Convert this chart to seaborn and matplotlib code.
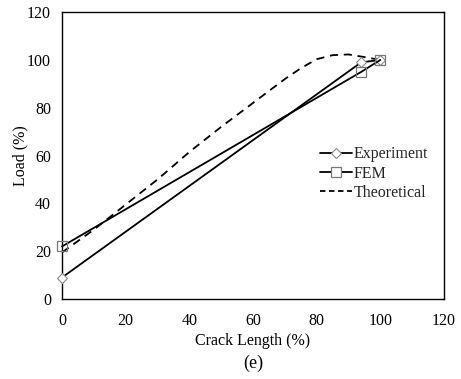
import matplotlib
matplotlib.use("Agg")
import matplotlib.pyplot as plt
import seaborn as sns
import pandas as pd
from matplotlib.lines import Line2D

sns.set_theme(style="white")
plt.rcParams['font.family'] = ['Liberation Serif', 'DejaVu Serif']

# Data
exp_x = [0, 94, 100]
exp_y = [9, 99, 100]
fem_x = [0, 94, 100]
fem_y = [22, 95, 100]
theo_x = [0, 10, 20, 30, 40, 50, 60, 70, 75, 80, 85, 90, 95, 100]
theo_y = [19.5, 29.0, 39.5, 50, 61.5, 72, 82, 92, 96.5, 100.3, 102, 102.3, 101.2, 100]

x_ticks = [0, 20, 40, 60, 80, 100, 120]
y_ticks = [0, 20, 40, 60, 80, 100, 120]

df_exp = pd.DataFrame({"x": exp_x, "y": exp_y})
df_fem = pd.DataFrame({"x": fem_x, "y": fem_y})
df_theo = pd.DataFrame({"x": theo_x, "y": theo_y})

LW = 1.3
DASH = (0, (4.5, 3.2))

fig = plt.figure(figsize=(4.61, 3.79), dpi=100)
ax = fig.add_axes([0.1345, 0.211, 0.963 - 0.1345, 0.968 - 0.211])

sns.lineplot(data=df_theo, x="x", y="y", ax=ax, color="black", lw=LW,
             linestyle=DASH, sort=False)
sns.lineplot(data=df_exp, x="x", y="y", ax=ax, color="black", lw=LW,
             marker="D", markersize=5, markerfacecolor="white",
             markeredgecolor="#888888", markeredgewidth=0.8, sort=False,
             clip_on=False, zorder=5)
sns.lineplot(data=df_fem, x="x", y="y", ax=ax, color="black", lw=LW,
             marker="s", markersize=7, markerfacecolor="none",
             markeredgecolor="#777777", markeredgewidth=0.9, sort=False,
             clip_on=False, zorder=6)

ax.set_xlim(0, 120)
ax.set_ylim(0, 120)
ax.set_xticks(x_ticks)
ax.set_yticks(y_ticks)
ax.tick_params(axis="x", length=0, pad=10, labelsize=11.5, colors="black")
ax.tick_params(axis="y", length=0, pad=8, labelsize=11.5, colors="black")
ax.set_xlabel("Crack Length (%)", fontsize=11.5, labelpad=3, color="black")
ax.set_ylabel("Load (%)", fontsize=11.5, labelpad=-1, color="black")
for s in ax.spines.values():
    s.set_color("black")
    s.set_linewidth(1.0)
ax.grid(False)

handles = [
    Line2D([], [], color="black", lw=LW, marker="D", markersize=5,
           markerfacecolor="white", markeredgecolor="#888888", markeredgewidth=0.8),
    Line2D([], [], color="black", lw=LW, marker="s", markersize=7,
           markerfacecolor="white", markeredgecolor="#777777", markeredgewidth=0.9),
    Line2D([], [], color="black", lw=LW, linestyle=(0, (3.0, 2.0))),
]
ax.legend(handles, ["Experiment", "FEM", "Theoretical"], loc="center left",
          bbox_to_anchor=(0.66, 0.437), frameon=False, fontsize=11.5,
          handlelength=2.0, handletextpad=0.1, labelspacing=0.2, numpoints=1,
          borderaxespad=0)

fig.text(0.549, 0.018, "(e)", ha="center", va="bottom", fontsize=13, color="black")

fig.savefig("out.png", dpi=100)
